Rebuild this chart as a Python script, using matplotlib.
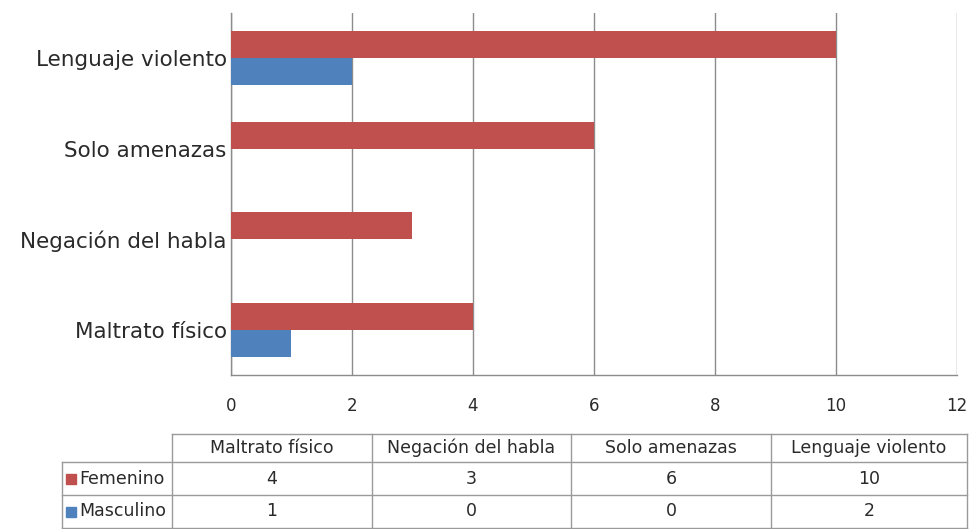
import matplotlib.pyplot as plt
from matplotlib.lines import Line2D
from matplotlib.patches import Rectangle

categories = ["Maltrato físico", "Negación del habla", "Solo amenazas", "Lenguaje violento"]
femenino = [4, 3, 6, 10]
masculino = [1, 0, 0, 2]
series_names = ["Femenino", "Masculino"]
x_ticks = [0, 2, 4, 6, 8, 10, 12]

RED = "#C0504D"
BLUE = "#4F81BD"
GRID = "#8C8C8C"
TXT = "#2A2A2A"
W, H = 970, 529

fig = plt.figure(figsize=(W / 100, H / 100), dpi=100)


def fx(px):
    return px / W


def fy(py):
    return 1 - py / H


ax = fig.add_axes([fx(231), fy(375), fx(957) - fx(231), fy(13) - fy(375)])

ypos = list(range(len(categories)))
bh = 0.3
ax.barh([y + bh / 2 for y in ypos], femenino, height=bh, color=RED, zorder=3)
ax.barh([y - bh / 2 for y in ypos], masculino, height=bh, color=BLUE, zorder=3)

ax.set_xlim(0, 12)
ax.set_ylim(-0.5, len(categories) - 0.5)
ax.set_xticks(x_ticks)
ax.set_yticks(ypos)
ax.set_yticklabels(categories, fontsize=15.5, color=TXT)
ax.tick_params(axis="y", length=0, pad=3)
ax.tick_params(axis="x", length=0, pad=16, labelsize=12, labelcolor=TXT)
ax.grid(axis="x", color=GRID, linewidth=1)
for s in ["top", "right"]:
    ax.spines[s].set_visible(False)
for s in ["left", "bottom"]:
    ax.spines[s].set_color(GRID)
    ax.spines[s].set_linewidth(1)

# data table under the chart
col_edges = [172, 372, 571, 771, 967]
row_edges = [434, 462, 495, 528]
row_left = 62
lc = "#9A9A9A"
tsize = 12.5


def hline(y, x0, x1):
    fig.add_artist(Line2D([fx(x0), fx(x1)], [fy(y), fy(y)], color=lc, lw=1))


def vline(x, y0, y1):
    fig.add_artist(Line2D([fx(x), fx(x)], [fy(y0), fy(y1)], color=lc, lw=1))


hline(row_edges[0], col_edges[0], col_edges[-1])
for y in row_edges[1:]:
    hline(y, row_left, col_edges[-1])
vline(row_left, row_edges[1], row_edges[-1])
for x in col_edges:
    vline(x, row_edges[0], row_edges[-1])

for i, name in enumerate(categories):
    cx = (col_edges[i] + col_edges[i + 1]) / 2
    fig.text(fx(cx), fy((row_edges[0] + row_edges[1]) / 2), name,
             ha="center", va="center", fontsize=tsize, color=TXT)
    for r, vals in enumerate([femenino, masculino]):
        cy = (row_edges[r + 1] + row_edges[r + 2]) / 2
        fig.text(fx(cx), fy(cy), str(vals[i]), ha="center", va="center",
                 fontsize=tsize, color=TXT)

for r, (name, c) in enumerate(zip(series_names, [RED, BLUE])):
    cy = (row_edges[r + 1] + row_edges[r + 2]) / 2
    fig.add_artist(Rectangle((fx(row_left + 4), fy(cy + 5)), fx(10), fy(0) - fy(10),
                             color=c, transform=fig.transFigure))
    fig.text(fx(row_left + 17), fy(cy), name, ha="left", va="center",
             fontsize=tsize, color=TXT)

fig.savefig("out.png", dpi=100)
